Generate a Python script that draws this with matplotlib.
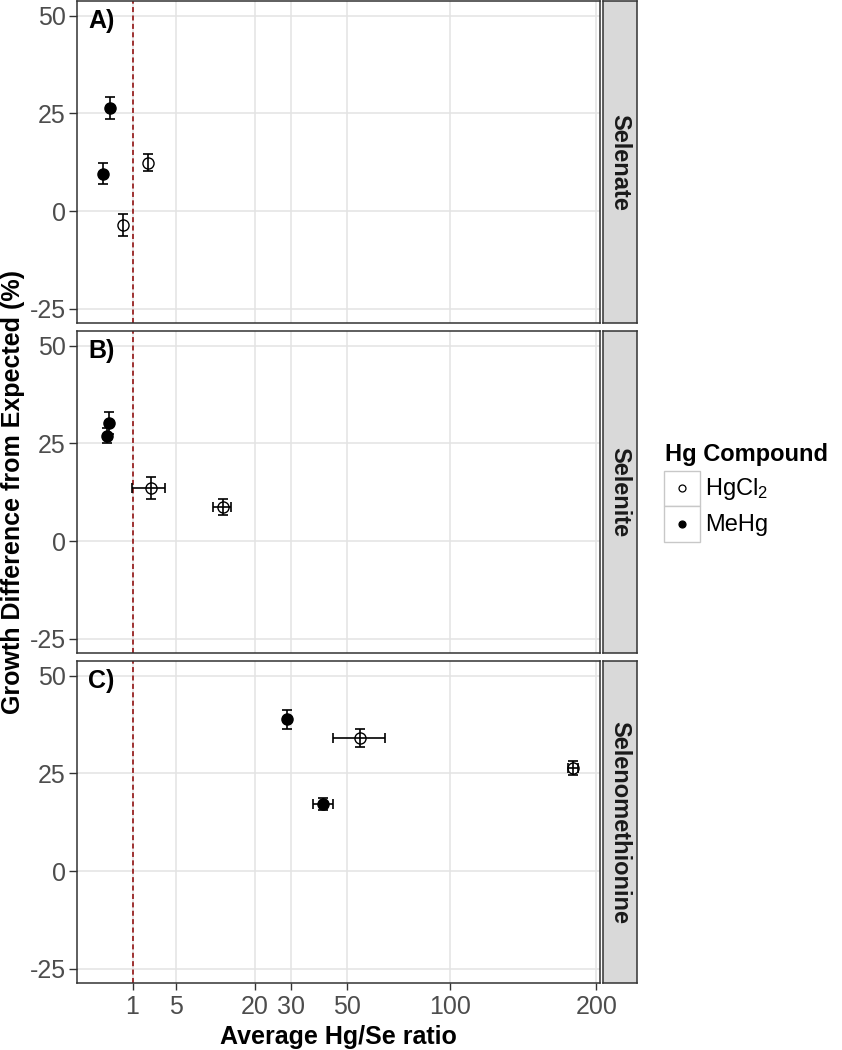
import numpy as np
import matplotlib

matplotlib.use("Agg")
import matplotlib.pyplot as plt
from matplotlib.patches import Rectangle

plt.rcParams["font.family"] = ["Liberation Sans", "DejaVu Sans"]
plt.rcParams["mathtext.fontset"] = "custom"
plt.rcParams["mathtext.rm"] = "Liberation Sans"
plt.rcParams["mathtext.default"] = "regular"
plt.rcParams["axes.unicode_minus"] = False

panels = ["Selenate", "Selenite", "Selenomethionine"]
panel_tags = ["A)", "B)", "C)"]

# Selenate
selenate_hg = ["MeHg", "MeHg", "HgCl2", "HgCl2"]
selenate_ratio = [0.03, 0.13, 0.55, 2.1]
selenate_ratio_err = [0, 0, 0, 0]
selenate_growth = [9.6, 26.4, -3.6, 12.4]
selenate_growth_err = [2.7, 2.9, 2.8, 2.2]

# Selenite
selenite_hg = ["MeHg", "MeHg", "HgCl2", "HgCl2"]
selenite_ratio = [0.07, 0.11, 2.3, 12.6]
selenite_ratio_err = [0, 0, 1.35, 1.85]
selenite_growth = [27.0, 30.3, 13.6, 8.7]
selenite_growth_err = [2.0, 2.8, 2.8, 2.1]

# Selenomethionine
semet_hg = ["MeHg", "MeHg", "HgCl2", "HgCl2"]
semet_ratio = [29.0, 41.0, 55.5, 182.0]
semet_ratio_err = [0, 3.8, 10.9, 3.8]
semet_growth = [38.8, 17.1, 34.0, 26.4]
semet_growth_err = [2.4, 1.6, 2.3, 1.7]

panel_data = [
    (selenate_hg, selenate_ratio, selenate_ratio_err, selenate_growth, selenate_growth_err),
    (selenite_hg, selenite_ratio, selenite_ratio_err, selenite_growth, selenite_growth_err),
    (semet_hg, semet_ratio, semet_ratio_err, semet_growth, semet_growth_err),
]

x_breaks = [1, 5, 20, 30, 50, 100, 200]
y_breaks = [-25, 0, 25, 50]
legend_labels = ["HgCl$_2$", "MeHg"]


def sqrt_fwd(x):
    x = np.asarray(x, dtype=float)
    return np.sign(x) * np.sqrt(np.abs(x))


def sqrt_inv(y):
    y = np.asarray(y, dtype=float)
    return np.sign(y) * y**2


W, H = 842, 1050
fig = plt.figure(figsize=(W / 100, H / 100), dpi=100)


def px_axes(left, top, right, bottom):
    return fig.add_axes([left / W, 1 - bottom / H, (right - left) / W, (bottom - top) / H])


border = "#333333"
panel_tops = [1, 331, 661]
panel_h = 322.4

for i, (name, tag, data) in enumerate(zip(panels, panel_tags, panel_data)):
    hg, ratio, ratio_err, growth, growth_err = data
    top = panel_tops[i]
    ax = px_axes(76.7, top, 599.5, top + panel_h)
    ax.set_xscale("function", functions=(sqrt_fwd, sqrt_inv))
    ax.set_xlim(-0.338, 202.5)
    ax.set_ylim(-28.75, 53.75)
    ax.set_xticks(x_breaks)
    ax.set_yticks(y_breaks)
    ax.minorticks_off()
    ax.grid(True, color="#E3E3E3", linewidth=1.1, zorder=0)
    ax.set_axisbelow(True)
    for sp in ax.spines.values():
        sp.set_color(border)
        sp.set_linewidth(1.1)
    ax.tick_params(axis="y", length=5.5, width=1.0, color=border, pad=2.5,
                   labelsize=18, labelcolor="#4D4D4D")
    if i == 2:
        ax.tick_params(axis="x", length=5, width=1.0, color=border, pad=3,
                       labelsize=18, labelcolor="#4D4D4D")
    else:
        ax.tick_params(axis="x", length=0, labelbottom=False)

    ax.axvline(1, color="#8B0000", linewidth=1.1, linestyle=(0, (3.3, 2.2)), zorder=1)

    for comp, face in [("HgCl2", "white"), ("MeHg", "black")]:
        idx = [k for k, h in enumerate(hg) if h == comp]
        xs = [ratio[k] for k in idx]
        ys = [growth[k] for k in idx]
        ax.plot(xs, ys, linestyle="none", marker="o", markersize=8,
                markerfacecolor=face, markeredgecolor="black", markeredgewidth=1.0, zorder=3)
    ax.errorbar(ratio, growth, yerr=growth_err, fmt="none", ecolor="black",
                elinewidth=1.2, capsize=3.6, capthick=1.2, zorder=4)
    hx = [k for k, e in enumerate(ratio_err) if e > 0]
    if hx:
        ax.errorbar([ratio[k] for k in hx], [growth[k] for k in hx],
                    xerr=[ratio_err[k] for k in hx], fmt="none", ecolor="black",
                    elinewidth=1.2, capsize=3.6, capthick=1.2, zorder=4)

    ax.text(0.022, 0.917, tag, transform=ax.transAxes, fontsize=18,
            fontweight="bold", ha="left", va="baseline")

    sax = px_axes(603, top, 637, top + panel_h)
    sax.set_facecolor("#D9D9D9")
    sax.set_xticks([])
    sax.set_yticks([])
    for sp in sax.spines.values():
        sp.set_color(border)
        sp.set_linewidth(1.1)
    sax.text(0.5, 0.5, name, rotation=-90, ha="center", va="center",
             fontsize=17, fontweight="bold", color="#1A1A1A", transform=sax.transAxes)

fig.text(13 / W, 1 - 492 / H, "Growth Difference from Expected (%)", rotation=90,
         ha="center", va="center", fontsize=18, fontweight="bold")
fig.text(338.3 / W, 1 - 1044 / H, "Average Hg/Se ratio", ha="center", va="baseline",
         fontsize=18, fontweight="bold")

# legend
lax = fig.add_axes([0, 0, 1, 1], facecolor="none")
lax.set_xlim(0, W)
lax.set_ylim(H, 0)
lax.axis("off")
lax.text(665, 455, "Hg Compound", fontsize=17, fontweight="bold", ha="left", va="center")
key_tops = [470.5, 506]
for kt, lab, face in zip(key_tops, legend_labels, ["white", "black"]):
    lax.add_patch(Rectangle((664, kt), 36, 35.5, facecolor="white", edgecolor="#C8C8C8", linewidth=1.0))
    lax.plot([682], [kt + 17.75], marker="o", markersize=5, markerfacecolor=face,
             markeredgecolor="black", markeredgewidth=0.9, linestyle="none")
    lax.text(705, kt + 18.5, lab, fontsize=17, ha="left", va="center")

fig.savefig("out.png", dpi=100)
plt.close(fig)
